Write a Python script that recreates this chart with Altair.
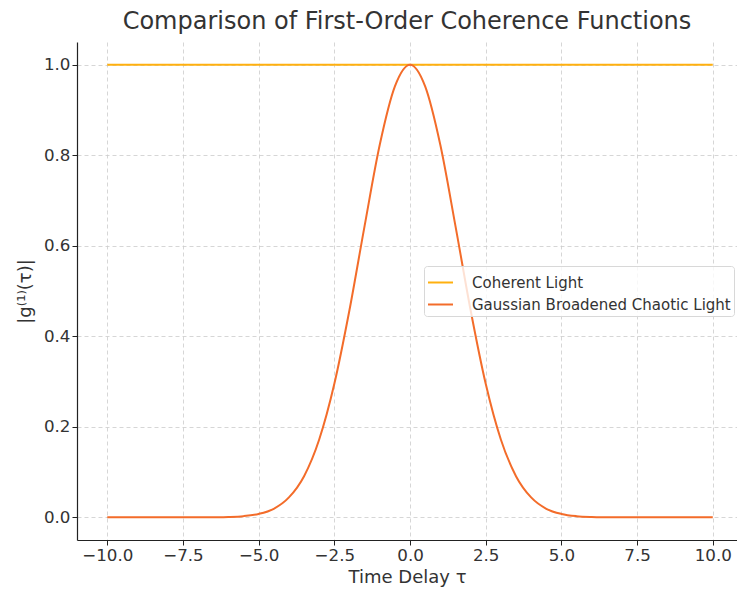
import altair as alt
import pandas as pd

# Time delay samples and the two |g1(tau)| curves
tau = [-10.0, -9.5, -9.0, -8.5, -8.0, -7.5, -7.0, -6.5, -6.0, -5.5, -5.0,
       -4.5, -4.0, -3.5, -3.0, -2.5, -2.0, -1.5, -1.0, -0.5, 0.0,
       0.5, 1.0, 1.5, 2.0, 2.5, 3.0, 3.5, 4.0, 4.5, 5.0,
       5.5, 6.0, 6.5, 7.0, 7.5, 8.0, 8.5, 9.0, 9.5, 10.0]
coherent = [1.0] * len(tau)
chaotic = [0.0, 0.0, 0.0, 0.0, 0.0, 0.0, 0.0, 0.0003, 0.0009, 0.0027, 0.0076,
           0.019, 0.044, 0.091, 0.172, 0.295, 0.458, 0.644, 0.823, 0.952, 1.0,
           0.952, 0.823, 0.644, 0.458, 0.295, 0.172, 0.091, 0.044, 0.019, 0.0076,
           0.0027, 0.0009, 0.0003, 0.0, 0.0, 0.0, 0.0, 0.0, 0.0, 0.0]

series_names = ["Coherent Light", "Gaussian Broadened Chaotic Light"]
series_colors = ["#FFB00F", "#F36C2A"]

df = pd.concat([
    pd.DataFrame({"tau": tau, "g": coherent, "series": series_names[0]}),
    pd.DataFrame({"tau": tau, "g": chaotic, "series": series_names[1]}),
])

font = "DejaVu Sans"
text_color = "#333333"

chart = alt.Chart(df).mark_line(strokeWidth=2, interpolate="monotone", clip=True).encode(
    x=alt.X("tau:Q",
            scale=alt.Scale(domain=[-11, 10.8], nice=False, zero=False),
            axis=alt.Axis(values=[-10, -7.5, -5, -2.5, 0, 2.5, 5, 7.5, 10],
                          format=".1f", title="Time Delay τ", titlePadding=5)),
    y=alt.Y("g:Q",
            scale=alt.Scale(domain=[-0.05, 1.05], nice=False, zero=False),
            axis=alt.Axis(values=[0, 0.2, 0.4, 0.6, 0.8, 1.0],
                          format=".1f", title="|g⁽¹⁾(τ)|", titlePadding=9)),
    color=alt.Color("series:N",
                    scale=alt.Scale(domain=series_names, range=series_colors),
                    legend=alt.Legend(title=None, orient="none",
                                      legendX=347, legendY=224,
                                      symbolType="stroke", symbolSize=625,
                                      symbolStrokeWidth=2,
                                      labelFontSize=15, labelFont=font,
                                      labelColor=text_color, labelOffset=18,
                                      labelLimit=400,
                                      rowPadding=-3, padding=3,
                                      strokeColor="#d8d8d8", cornerRadius=3,
                                      fillColor="rgba(255,255,255,0.8)")),
).properties(
    width=660,
    height=498,
    background="white",
    title=alt.TitleParams("Comparison of First-Order Coherence Functions",
                          fontSize=24, font=font, color=text_color,
                          fontWeight="normal", anchor="middle", offset=8),
    autosize=alt.AutoSizeParams(type="none"),
    padding={"left": 77, "top": 42, "right": 0, "bottom": 50},
).configure_view(
    stroke=None
).configure_axis(
    labelFont=font, labelFontSize=16.7, labelColor=text_color,
    titleFont=font, titleFontSize=18, titleColor=text_color, titleFontWeight="normal",
    domainColor="#222222", domainWidth=1.2,
    tickColor="#222222", tickSize=5, tickWidth=1,
    grid=True, gridColor="#cccccc", gridDash=[4, 3], gridWidth=0.8,
    labelPadding=2,
)

chart.save("out.html", embed_options={"renderer": "svg", "actions": False})
